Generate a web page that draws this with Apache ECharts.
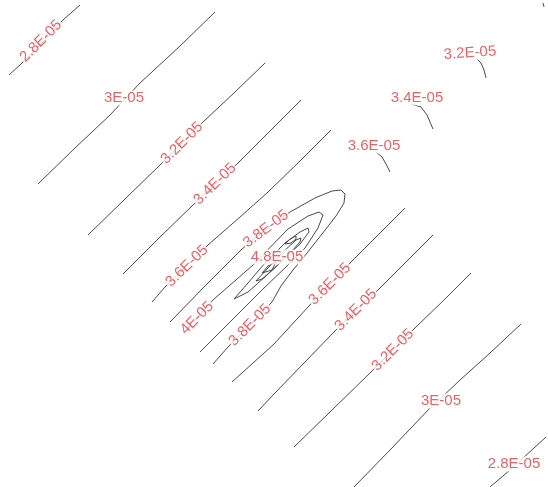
<!DOCTYPE html>
<html>
<head>
<meta charset="utf-8">
<script src="https://cdn.jsdelivr.net/npm/echarts@6/dist/echarts.min.js"></script>
<style>
  html, body { margin: 0; padding: 0; background: #fff; }
  #main { width: 548px; height: 487px; }
</style>
</head>
<body>
<div id="main"></div>
<script>
// contour polylines, in plot units (x right, y down)
var c28a = [[9, 75], [20, 65], [45, 40], [63, 20], [80, 5]];
var c30a = [[38, 184], [75, 148], [110, 115], [140, 83], [180, 46], [215, 12]];
var c32a = [[88, 235], [125, 199], [160, 165], [203, 122], [235, 92], [265, 63]];
var c34a = [[123, 274], [160, 237], [193, 205], [238, 163], [274, 127], [301, 100]];
var c36a = [[152, 302], [165, 287], [208, 245], [240, 217], [267, 193], [300, 161], [331, 130]];
var c38 = [[170, 322], [205, 286], [242, 249], [266, 229], [290, 212], [315, 198], [332, 191], [341, 190],
    [345, 194], [344, 203], [336, 216], [322, 234], [307, 253], [293, 270], [281, 286], [272, 302],
    [250, 325], [228, 347], [213, 364]];
var c40 = [[187, 328], [197, 318], [213, 300], [253, 265], [288, 229], [308, 216], [319, 212], [323, 215],
    [318, 228], [305, 248], [288, 265], [262, 290], [230, 322], [200, 352]];
var c42 = [[234, 299], [248, 283], [265, 263], [285, 243], [300, 232], [308, 228], [309, 232], [300, 244],
    [285, 258], [266, 276], [248, 292], [234, 299]];
var c44 = [[256, 281], [268, 268], [283, 252], [296, 240], [301, 238], [300, 242], [290, 253], [276, 267],
    [262, 279], [256, 281]];
var c46 = [[262, 273], [268, 266], [276, 262], [278, 264], [272, 270], [262, 273]];
var c48 = [[285, 244], [290, 239], [296, 236], [296, 239], [291, 243], [285, 244]];
var c36b = [[232, 382], [274, 344], [309, 306], [330, 284], [352, 261], [380, 233], [405, 208]];
var c34b = [[258, 411], [274, 394], [334, 332], [356, 310], [379, 289], [410, 258], [433, 235]];
var c32b = [[294, 447], [330, 412], [371, 372], [393, 350], [416, 327], [445, 299], [471, 273]];
var c30b = [[354, 487], [390, 450], [431, 407], [441, 398], [460, 380], [490, 353], [521, 324]];
var c28b = [[490, 487], [510, 470], [546, 437]];
var arc32 = [[476, 58], [481, 63], [484, 70], [486, 78]];
var arc34 = [[411, 104], [421, 107], [427, 115], [433, 129]];
var arc36 = [[376, 152], [382, 157], [386, 164], [390, 172]];
var arc30 = [[543, 3], [544, 7]];

var contours = [c28a, c30a, c32a, c34a, c36a, c38, c40, c42, c44, c46, c48,
    c36b, c34b, c32b, c30b, c28b, arc32, arc34, arc36, arc30];

// contour labels
var labelText = ['2.8E-05', '3E-05', '3.2E-05', '3.4E-05', '3.6E-05', '3.8E-05', '4.8E-05', '4E-05',
    '3.8E-05', '3.6E-05', '3.4E-05', '3.2E-05', '3E-05', '2.8E-05', '3.2E-05', '3.4E-05', '3.6E-05'];
var labelPos = [[41, 41], [124, 98], [182, 143], [215, 184], [187, 266], [266, 229], [277, 257], [197, 318],
    [250, 325], [330, 284], [356, 310], [393, 350], [441, 401], [514, 464], [470, 53], [417, 98], [374, 146]];
var labelAngle = [45, 0, 45, 44, 44, 37, 0, 45, 45, 45, 45, 45, 0, 0, 4, 0, 0];

var chart = echarts.init(document.getElementById('main'));

var series = contours.map(function (pts) {
    return {
        type: 'line',
        data: pts,
        symbol: 'none',
        silent: true,
        z: 2,
        lineStyle: { color: '#4a4a4a', width: 1 }
    };
});

series.push({
    type: 'scatter',
    z: 10,
    symbolSize: 1,
    silent: true,
    itemStyle: { color: 'transparent' },
    label: {
        show: true,
        position: 'inside',
        formatter: '{b}',
        color: '#e8393f',
        fontSize: 15,
        fontFamily: '"Liberation Sans", Arial, sans-serif',
        backgroundColor: '#fff',
        padding: [0, 1]
    },
    data: labelPos.map(function (p, i) {
        return { name: labelText[i], value: p, label: { rotate: labelAngle[i] } };
    })
});

var option = {
    backgroundColor: '#fff',
    animation: false,
    grid: { left: 0, right: 0, top: 0, bottom: 0 },
    xAxis: { type: 'value', min: 0, max: 548, show: false },
    yAxis: { type: 'value', min: 0, max: 487, inverse: true, show: false },
    series: series
};

chart.setOption(option);
</script>
</body>
</html>
